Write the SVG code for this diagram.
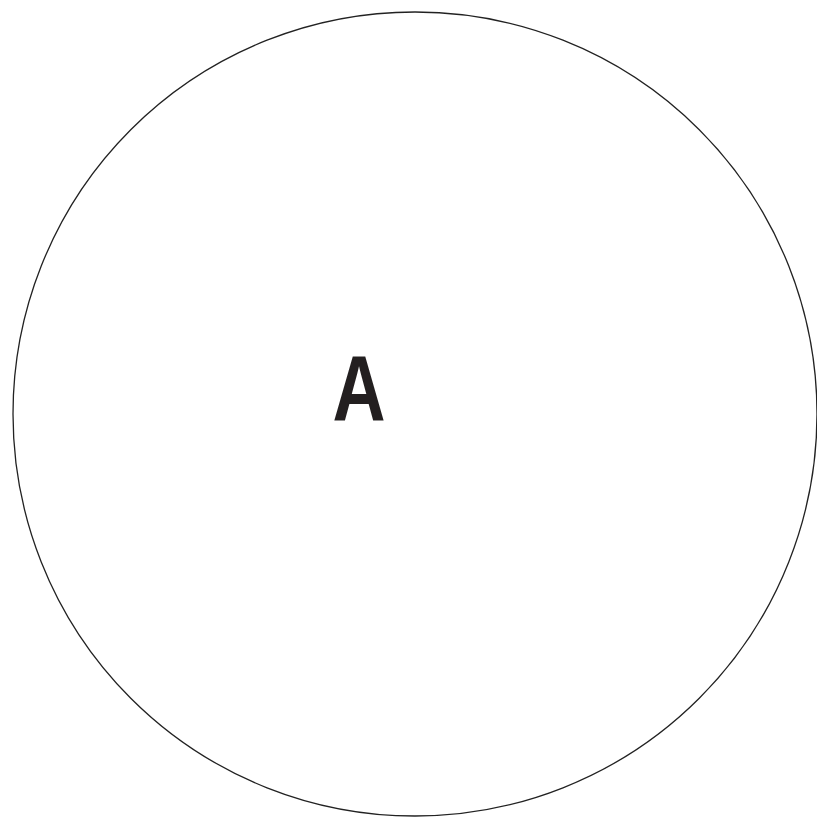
<svg xmlns="http://www.w3.org/2000/svg" width="817" height="818" viewBox="0 0 817 818">
<style>
.node{fill:#ffffff;stroke:#222222;stroke-width:1.3}
.label{font-family:"Liberation Sans",Arial,sans-serif;font-weight:bold;font-size:93px;fill:#231f20}
</style>
<rect width="817" height="818" fill="#ffffff"/>
<g id="connectors"></g>
<g id="nodeA">
<circle class="node" cx="415" cy="414" r="402"/>
<text class="label" x="0" y="0" text-anchor="middle" transform="translate(359,420) scale(0.79,1)">A</text>
</g>
</svg>
